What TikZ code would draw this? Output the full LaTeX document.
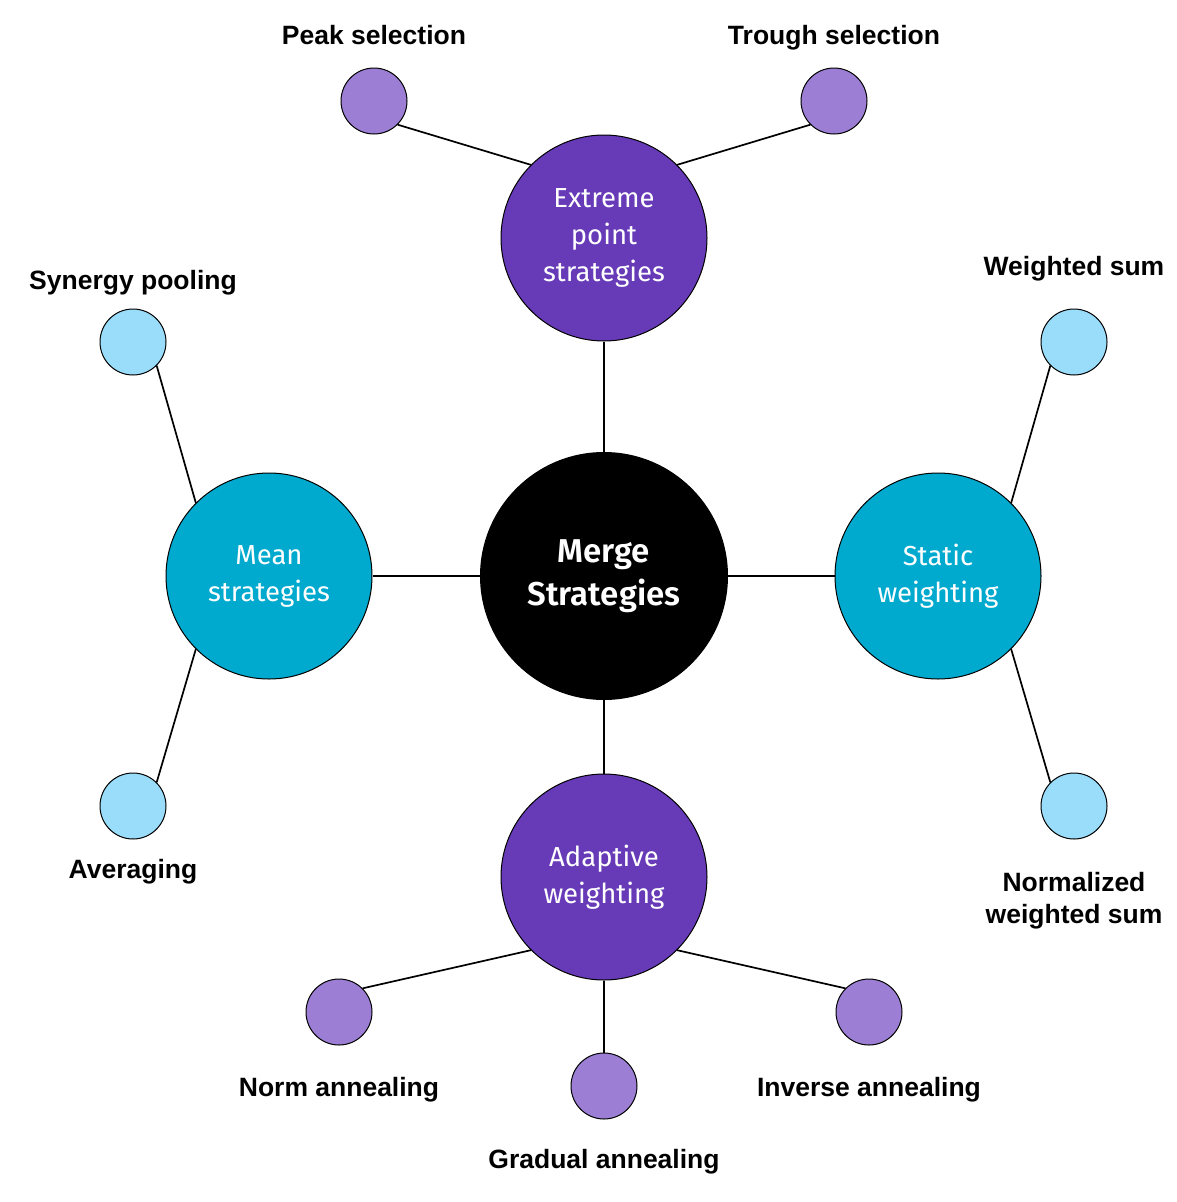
\documentclass[tikz,border=0pt]{standalone}
\usepackage{fontspec}
\setmainfont{Liberation Sans}
\newfontfamily\circfont{Fira Sans}
\newfontfamily\circfontb{Fira Sans SemiBold}
\definecolor{darkpurple}{HTML}{673AB7}
\definecolor{lightpurple}{HTML}{9C7FD4}
\definecolor{teal}{HTML}{00A9CE}
\definecolor{lightblue}{HTML}{99DDFA}
\begin{document}
\begin{tikzpicture}[x=1pt,y=-1pt,
  bigc/.style={circle,draw=black,line width=1pt,minimum size=206pt,inner sep=0pt,
    text=white,align=center,font=\circfont\fontsize{27.5}{37}\selectfont},
  smallc/.style={circle,draw=black,line width=1pt,minimum size=66pt,inner sep=0pt},
  lab/.style={font=\bfseries\fontsize{26.5}{32}\selectfont,align=center,text=black},
  conn/.style={line width=1.7pt,draw=black}]
\useasboundingbox (0,0) rectangle (1177,1202);
\fill[white] (0,0) rectangle (1177,1202);
\node[circle,fill=black,minimum size=248pt,inner sep=0pt,text=white,align=center,
  font=\circfontb\fontsize{33}{45}\selectfont] (c) at (604,576) {\raisebox{-2pt}{Merge}\\Strategies};
\node[bigc,fill=darkpurple] (ext) at (604,238) {Extreme\\point\\strategies};
\node[bigc,fill=teal] (mean) at (269,576) {Mean\\strategies};
\node[bigc,fill=teal] (stat) at (938,576) {Static\\weighting};
\node[bigc,fill=darkpurple] (adap) at (604,877) {Adaptive\\weighting};
\node[smallc,fill=lightpurple] (peak) at (374,101) {};
\node[smallc,fill=lightpurple] (trough) at (834,101) {};
\node[smallc,fill=lightblue] (syn) at (133,342) {};
\node[smallc,fill=lightblue] (avg) at (133,806) {};
\node[smallc,fill=lightblue] (ws) at (1074,342) {};
\node[smallc,fill=lightblue] (nws) at (1074,806) {};
\node[smallc,fill=lightpurple] (norm) at (339,1012) {};
\node[smallc,fill=lightpurple] (grad) at (604,1086) {};
\node[smallc,fill=lightpurple] (inv) at (869,1012) {};
\draw[conn] (c.north) -- (ext.south);
\draw[conn] (c.west) -- (mean.east);
\draw[conn] (c.east) -- (stat.west);
\draw[conn] (c.south) -- (adap.north);
\draw[conn] (ext.135) -- (peak.-45);
\draw[conn] (ext.45) -- (trough.225);
\draw[conn] (mean.135) -- (syn.-45);
\draw[conn] (mean.225) -- (avg.45);
\draw[conn] (stat.45) -- (ws.225);
\draw[conn] (stat.-45) -- (nws.135);
\draw[conn] (adap.225) -- (norm.45);
\draw[conn] (adap.south) -- (grad.north);
\draw[conn] (adap.-45) -- (inv.135);
\node[lab,anchor=base] (lpeak) at (374,44.5) {Peak selection};
\node[lab,anchor=base] (ltrough) at (834,44.5) {Trough selection};
\node[lab,anchor=base] (lsyn) at (133,289.5) {Synergy pooling};
\node[lab,anchor=base] (lavg) at (133,878.5) {Averaging};
\node[lab,anchor=base] (lws) at (1074,275.5) {Weighted sum};
\node[lab] (lnws) at (1074,901) {Normalized\\weighted sum};
\node[lab,anchor=base] (lnorm) at (339,1096.5) {Norm annealing};
\node[lab,anchor=base] (linv) at (869,1096.5) {Inverse annealing};
\node[lab,anchor=base] (lgrad) at (604,1168.5) {Gradual annealing};
\end{tikzpicture}
\end{document}
